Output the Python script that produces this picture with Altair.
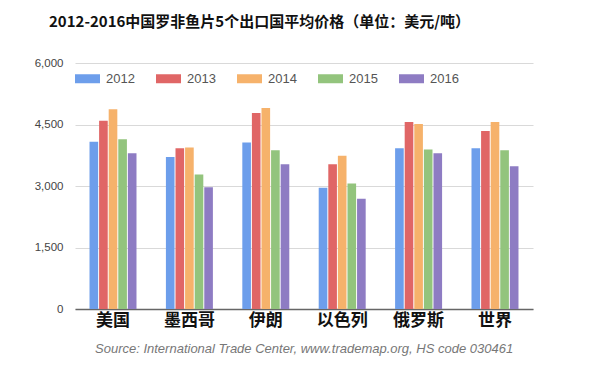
import altair as alt
import pandas as pd

countries = ["美国", "墨西哥", "伊朗", "以色列", "俄罗斯", "世界"]
years = ["2012", "2013", "2014", "2015", "2016"]
values = {
    "2012": [4080, 3710, 4060, 2960, 3920, 3920],
    "2013": [4590, 3920, 4780, 3530, 4560, 4340],
    "2014": [4870, 3940, 4900, 3740, 4510, 4560],
    "2015": [4140, 3280, 3870, 3060, 3890, 3870],
    "2016": [3800, 2970, 3530, 2690, 3800, 3480],
}
colors = ["#6d9eeb", "#e06666", "#f6b26b", "#93c47d", "#8e7cc3"]
y_ticks = [0, 1500, 3000, 4500, 6000]
title_text = "2012-2016中国罗非鱼片5个出口国平均价格（单位：美元/吨）"
source_text = "Source: International Trade Center, www.trademap.org, HS code 030461"

rows = []
for y in years:
    for c, v in zip(countries, values[y]):
        rows.append({"country": c, "year": y, "value": v})
df = pd.DataFrame(rows)

W, H = 458, 246

bars = alt.Chart(df).mark_bar().encode(
    x=alt.X("country:N", sort=countries, title=None,
            scale=alt.Scale(paddingInner=0.385, paddingOuter=0.19),
            axis=alt.Axis(labelAngle=0, labelFont="Noto Sans CJK SC", labelFontSize=17,
                          labelFontWeight="bold", labelColor="#111", ticks=False,
                          domainColor="#666", domainWidth=1.5, labelPadding=3, grid=False)),
    xOffset=alt.XOffset("year:N", sort=years, scale=alt.Scale(paddingInner=0.1)),
    y=alt.Y("value:Q", title=None,
            scale=alt.Scale(domain=[0, 6000], nice=False),
            axis=alt.Axis(values=y_ticks, format=",.0f", labelFont="Liberation Sans",
                          labelFontSize=11.5, labelColor="#444", ticks=False, domain=False,
                          gridColor="#d9d9d9", gridWidth=1.2, labelPadding=12)),
    color=alt.Color("year:N", sort=years, scale=alt.Scale(domain=years, range=colors),
                    legend=alt.Legend(title=None, orient="none", direction="horizontal",
                                      legendX=0, legendY=3,
                                      symbolType="M-1,-0.36H1V0.36H-1Z", symbolSize=625,
                                      symbolStrokeWidth=0, symbolOpacity=1,
                                      labelFont="Liberation Sans", labelFontSize=13,
                                      labelColor="#555", labelOffset=6, columnPadding=21,
                                      padding=0)),
)

src = alt.Chart(pd.DataFrame({"t": [source_text]})).mark_text(
    align="left", baseline="middle", font="Liberation Sans", fontSize=13,
    fontStyle="italic", color="#777"
).encode(x=alt.value(20), y=alt.value(H + 40), text="t:N")

chart = alt.layer(bars, src).properties(
    width=W, height=H,
    padding={"left": 67, "top": 55, "right": 40, "bottom": 60},
    autosize=alt.AutoSizeParams(type="none"),
    title=alt.TitleParams(title_text, anchor="start", frame="group", dx=-26, offset=27,
                          font="Noto Sans CJK SC", fontSize=15, fontWeight="bold",
                          color="#111"),
).configure_view(stroke=None)

chart.save("out.html", embed_options={"renderer": "svg", "actions": False})
